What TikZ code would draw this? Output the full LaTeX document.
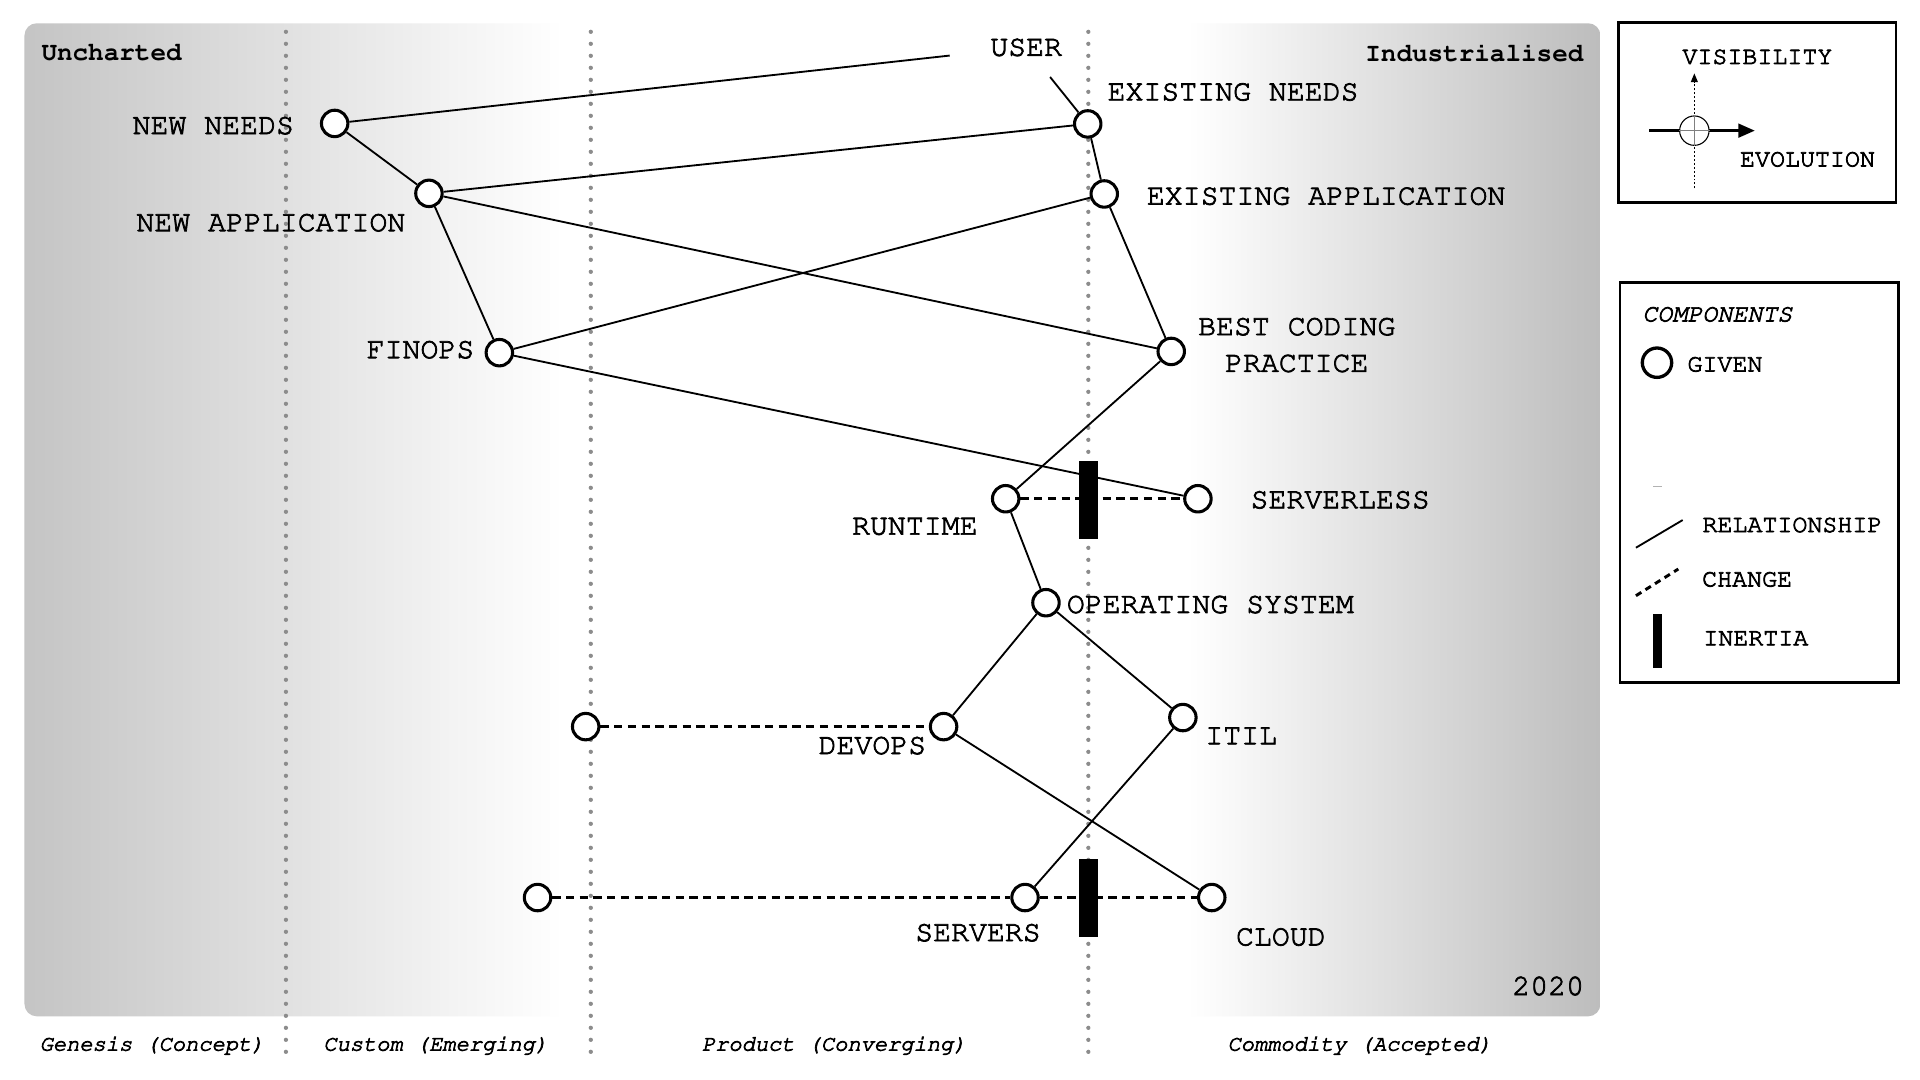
\documentclass[tikz,border=0pt]{standalone}
\usepackage[T1]{fontenc}
\renewcommand{\rmdefault}{pcr}
\renewcommand{\familydefault}{pcr}
\usetikzlibrary{arrows.meta}
\definecolor{mapL}{gray}{0.77}
\definecolor{mapR}{gray}{0.74}
\definecolor{dotgray}{gray}{0.55}
\pgfdeclarehorizontalshading{mapshade}{100bp}{color(0bp)=(mapL); color(25bp)=(mapL); color(42.1bp)=(white); color(61.9bp)=(white); color(75bp)=(mapR); color(100bp)=(mapR)}
\newcommand{\heavier}{\special{pdf:literal direct 2 Tr 0.3 w}}
\begin{document}
\begin{tikzpicture}[x=0.5pt,y=-0.5pt,
  comp/.style={circle,draw,fill=white,line width=1.25pt,minimum size=10.8pt,inner sep=0pt},
  lbl/.style={inner sep=0pt,font=\fontsize{12.2}{15}\selectfont\heavier},
  rel/.style={line width=0.75pt},
  chg/.style={line width=1.2pt,dash pattern=on 3.4pt off 2.2pt},
  inertiabar/.style={fill=black,inner sep=0pt,minimum width=8pt,minimum height=32pt},
  evoline/.style={dotgray,line width=1.75pt,dash pattern=on 0pt off 4.9pt,line cap=round},
  stage/.style={inner sep=0pt,anchor=base,font=\fontsize{9}{11}\selectfont\itshape\heavier},
  corner/.style={inner sep=0pt,font=\fontsize{10.6}{12}\selectfont\bfseries},
  leg/.style={inner sep=0pt,font=\fontsize{10.2}{12}\selectfont\heavier},
  legbox/.style={line width=1.1pt}
]
\useasboundingbox (0,0) rectangle (1568,882);
\fill[white] (0,0) rectangle (1568,882);

% map background
\shade[shading=mapshade,rounded corners=5pt] (20,19) rectangle (1307,830);

% evolution stage lines
\draw[evoline] (233.5,26) -- (233.5,860);
\draw[evoline] (482.5,26) -- (482.5,860);
\draw[evoline] (888.8,26) -- (888.8,860);

% corner labels
\node[corner,anchor=west] (unch) at (33.5,43) {Uncharted};
\node[corner,anchor=east] (ind) at (1293.5,43) {Industrialised};
\node[lbl,anchor=east] (year) at (1294,805) {2020};

% stage labels
\node[stage] (gen) at (124.2,858) {Genesis (Concept)};
\node[stage] (cus) at (355.9,858) {Custom (Emerging)};
\node[stage] (pro) at (681.3,858) {Product (Converging)};
\node[stage] (com) at (1110.5,858) {Commodity (Accepted)};

% user anchor
\node[lbl,minimum width=62pt,minimum height=24pt] (user) at (838,38.5) {USER};

% components
\node[comp] (nn) at (273.3,100.8) {};
\node[comp] (en) at (888.3,101.2) {};
\node[comp] (na) at (350.3,157.9) {};
\node[comp] (ea) at (901.8,158.4) {};
\node[comp] (fin) at (407.8,288) {};
\node[comp] (bcp) at (956.5,287) {};
\node[comp] (rt) at (821.3,407.3) {};
\node[comp] (sl) at (978.3,407.3) {};
\node[comp] (os) at (854.2,492.2) {};
\node[comp] (dv) at (770.6,593.4) {};
\node[comp] (dv2) at (478.3,593.4) {};
\node[comp] (itil) at (966,586) {};
\node[comp] (sv) at (837.1,733) {};
\node[comp] (sv2) at (439,733) {};
\node[comp] (cl) at (989.6,733) {};

% component labels
\node[lbl] (lnn) at (174.2,102.4) {NEW NEEDS};
\node[lbl] (len) at (1007,74.9) {EXISTING NEEDS};
\node[lbl] (lna) at (221.2,181.7) {NEW APPLICATION};
\node[lbl] (lea) at (1083,160) {EXISTING APPLICATION};
\node[lbl] (lfin) at (343.4,285.4) {FINOPS};
\node[lbl,align=center] (lbcp) at (1059,281.6) {BEST CODING\\PRACTICE};
\node[lbl] (lrt) at (747.1,430) {RUNTIME};
\node[lbl] (lsl) at (1094.5,408) {SERVERLESS};
\node[lbl] (los) at (988.4,493.5) {OPERATING SYSTEM};
\node[lbl] (ldv) at (712.4,608.7) {DEVOPS};
\node[lbl] (litil) at (1013.6,601) {ITIL};
\node[lbl] (lsv) at (798.7,761.5) {SERVERS};
\node[lbl] (lcl) at (1046,765) {CLOUD};

% relationships
\draw[rel] (user) -- (nn);
\draw[rel] (user) -- (en);
\draw[rel] (nn) -- (na);
\draw[rel] (na) -- (en);
\draw[rel] (en) -- (ea);
\draw[rel] (na) -- (fin);
\draw[rel] (na) -- (bcp);
\draw[rel] (ea) -- (fin);
\draw[rel] (ea) -- (bcp);
\draw[rel] (fin) -- (sl);
\draw[rel] (bcp) -- (rt);
\draw[rel] (rt) -- (os);
\draw[rel] (os) -- (dv);
\draw[rel] (os) -- (itil);
\draw[rel] (dv) -- (cl);
\draw[rel] (itil) -- (sv);

% changes
\draw[chg] (rt) -- (sl);
\draw[chg] (dv2) -- (dv);
\draw[chg] (sv2) -- (sv);
\draw[chg] (sv) -- (cl);

% inertia
\node[inertiabar] (in1) at (888.8,408.3) {};
\node[inertiabar] (in2) at (888.8,733.6) {};

% legend 1
\draw[legbox] (1322,18.5) rectangle (1548.4,165.5);
\node[leg] (lvis) at (1435.2,46.3) {VISIBILITY};
\node[leg] (levo) at (1476.1,130) {EVOLUTION};
\coordinate (vb) at (1383.7,153.8);
\coordinate (vt) at (1383.7,59.9);
\coordinate (hl) at (1346.7,106.7);
\coordinate (hr) at (1433.2,106.7);
\draw[line width=0.6pt,dash pattern=on 0.8pt off 0.8pt,-{Triangle[length=3.6pt,width=2.8pt]}] (vb) -- (vt);
\draw[line width=1.35pt,-{Triangle[length=6.8pt,width=5.5pt]}] (hl) -- (hr);
\node[circle,draw,fill=white,line width=0.45pt,minimum size=12pt,inner sep=0pt] (cross) at (1383.7,106.7) {};
\draw[gray,line width=0.45pt] (cross.north) -- (cross.south);
\draw[gray,line width=0.45pt] (cross.west) -- (cross.east);

% legend 2
\draw[legbox] (1323,230.5) rectangle (1550.2,557.2);
\node[leg,font=\fontsize{10.2}{12}\selectfont\itshape\heavier] (lcomp) at (1402.5,256.6) {COMPONENTS};
\node[circle,draw,line width=1.35pt,minimum size=12pt,inner sep=0pt] (lgiven) at (1353.2,296.2) {};
\node[leg] (tgiven) at (1408.7,297.4) {GIVEN};
\draw[gray!60,line width=0.6pt] (1350,397.5) -- (1357,397.5);
\draw[rel] (1336,447.3) -- (1374.2,424.7);
\node[leg] (trel) at (1463.8,428.6) {RELATIONSHIP};
\draw[chg,line width=1.2pt,dash pattern=on 2.6pt off 2pt] (1336,486.5) -- (1370.6,464.7);
\node[leg] (tchg) at (1426.8,473) {CHANGE};
\fill[black] (1349.6,501.7) rectangle (1357,545.3);
\node[leg] (tin) at (1433.9,521.5) {INERTIA};
\end{tikzpicture}
\end{document}
